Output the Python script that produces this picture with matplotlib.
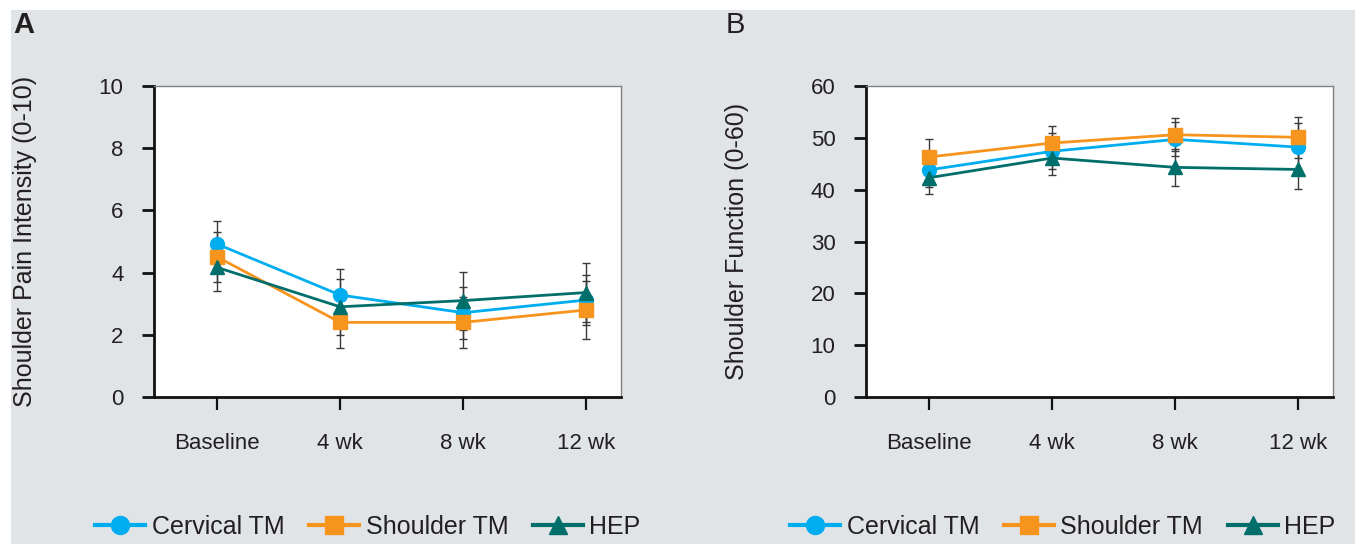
import matplotlib
matplotlib.use("Agg")
import matplotlib.pyplot as plt
from matplotlib.patches import Rectangle
import numpy as np

plt.rcParams["font.family"] = ["Liberation Sans Narrow", "Liberation Sans", "DejaVu Sans"]

TIMEPOINTS = ["Baseline", "4 wk", "8 wk", "12 wk"]

# Panel A: shoulder pain intensity (0-10)
pain_cervical = [4.92, 3.28, 2.71, 3.12]
pain_cervical_err = [0.75, 0.85, 0.84, 0.80]
pain_shoulder = [4.51, 2.40, 2.40, 2.80]
pain_shoulder_err = [0.80, 0.84, 0.83, 0.94]
pain_hep = [4.17, 2.90, 3.10, 3.36]
pain_hep_err = [0.76, 0.90, 0.93, 0.96]

# Panel B: shoulder function (0-60)
func_cervical = [43.8, 47.4, 49.7, 48.2]
func_cervical_err = [3.2, 3.5, 3.3, 4.6]
func_shoulder = [46.3, 49.0, 50.6, 50.1]
func_shoulder_err = [3.4, 3.2, 3.2, 4.0]
func_hep = [42.3, 46.1, 44.3, 43.9]
func_hep_err = [3.1, 3.2, 3.6, 3.8]

C_CERV = "#00aeef"
C_SHOU = "#f7941d"
C_HEP = "#006e6a"
TXT = "#231f20"
BG = "#e1e4e7"

W, H = 1371, 544
fig = plt.figure(figsize=(W / 100, H / 100), dpi=100)
fig.patches.append(Rectangle((11 / W, 0), 1344 / W, 534 / H, transform=fig.transFigure,
                             facecolor=BG, edgecolor="none", zorder=-10))


def panel(left_px, ylabel, ymax, ystep, series):
    ax = fig.add_axes([left_px / W, (H - 397) / H, 467 / W, 311 / H])
    ax.set_facecolor("white")
    x = np.arange(len(TIMEPOINTS))
    handles = []
    for vals, errs, color, marker, ms, label in series:
        ax.errorbar(x, vals, yerr=errs, fmt="none", ecolor="#3a3a3a", elinewidth=1.0,
                    capsize=3, capthick=1.0, zorder=2)
        h, = ax.plot(x, vals, color=color, marker=marker, markersize=ms, lw=2.0,
                     label=label, zorder=3)
        handles.append(h)
    ax.set_xlim(-0.51, 3.28)
    ax.set_ylim(0, ymax)
    ax.set_xticks(x)
    ax.set_xticklabels(TIMEPOINTS)
    ax.set_yticks(np.arange(0, ymax + ystep / 2, ystep))
    for s in ("left", "bottom"):
        ax.spines[s].set_color("#111111")
        ax.spines[s].set_linewidth(2.0)
    for s in ("top", "right"):
        ax.spines[s].set_color("#808080")
        ax.spines[s].set_linewidth(1.0)
    ax.tick_params(axis="y", length=9, width=2, color="#111111", pad=13,
                   labelsize=16, labelcolor=TXT)
    ax.tick_params(axis="x", length=9, width=1.6, color="#111111", pad=17,
                   labelsize=16, labelcolor=TXT)
    ax.set_ylabel(ylabel, fontsize=18, color=TXT)
    ax.yaxis.set_label_coords(-0.25, 0.5)
    return ax, handles


axA, hA = panel(154, "Shoulder Pain Intensity (0-10)", 10, 2, [
    (pain_cervical, pain_cervical_err, C_CERV, "o", 10, "Cervical TM"),
    (pain_shoulder, pain_shoulder_err, C_SHOU, "s", 10, "Shoulder TM"),
    (pain_hep, pain_hep_err, C_HEP, "^", 10, "HEP"),
])
axB, hB = panel(866, "Shoulder Function (0-60)", 60, 10, [
    (func_cervical, func_cervical_err, C_CERV, "o", 10, "Cervical TM"),
    (func_shoulder, func_shoulder_err, C_SHOU, "s", 10, "Shoulder TM"),
    (func_hep, func_hep_err, C_HEP, "^", 10, "HEP"),
])

fig.text(13 / W, 1 - 25 / H, "A", fontsize=21, fontweight="bold", color=TXT, va="center")
fig.text(726 / W, 1 - 25 / H, "B", fontsize=21, color=TXT, va="center")

for handles, cx in ((hA, 368), (hB, 1063)):
    leg = fig.legend(handles=handles, loc="center", bbox_to_anchor=(cx / W, 1 - 527 / H),
                     ncol=3, frameon=False, fontsize=18, handlelength=2.0,
                     handletextpad=0.25, columnspacing=1.0, labelcolor=TXT)
    for lh in leg.legend_handles:
        lh.set_linewidth(3.0)
        lh.set_markersize(13)

fig.savefig("out.png", dpi=100, facecolor="white")
